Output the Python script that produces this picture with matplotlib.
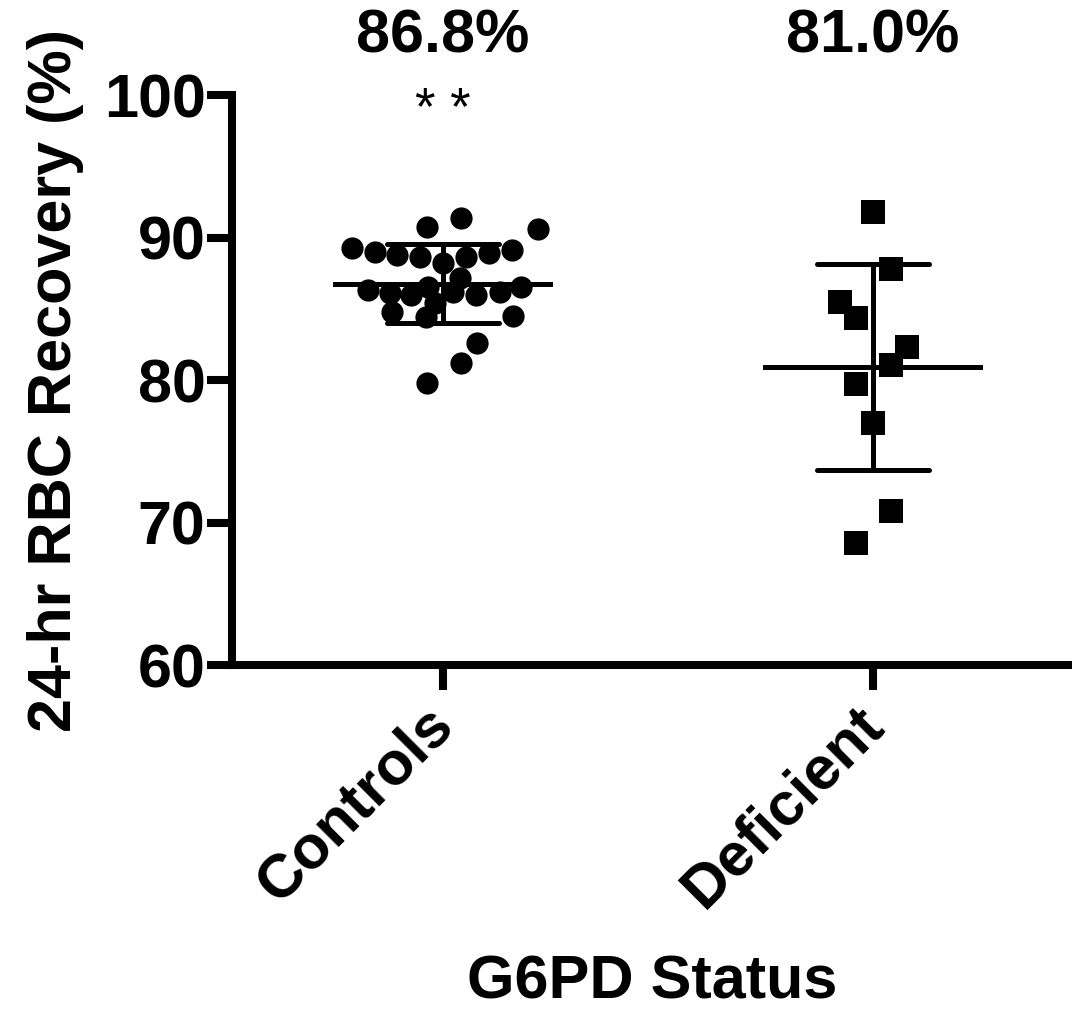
import numpy as np
import matplotlib
matplotlib.use('Agg')
import matplotlib.pyplot as plt
import matplotlib.transforms as mtransforms

plt.rcParams['font.family'] = ['Liberation Sans', 'DejaVu Sans']

groups = ['Controls', 'Deficient']
mean_labels = ['86.8%', '81.0%']

controls = [90.76, 91.35, 90.57, 89.24, 89.0, 88.77, 88.65, 88.19, 88.65, 88.89,
            89.12, 87.14, 86.32, 86.08, 85.96, 86.55, 86.2, 85.96, 86.2, 86.55,
            84.8, 84.44, 85.38, 84.49, 82.62, 81.17, 79.81]
controls_dx = [-0.037, 0.043, 0.222, -0.211, -0.158, -0.106, -0.053, 0.0, 0.055, 0.108,
               0.160, 0.040, -0.174, -0.123, -0.073, -0.034, 0.024, 0.078, 0.133, 0.183,
               -0.117, -0.038, -0.019, 0.163, 0.080, 0.043, -0.037]

deficient = [91.81, 87.77, 85.45, 84.33, 82.34, 81.05, 79.72, 77.0, 70.81, 68.58]
deficient_dx = [0.0, 0.042, -0.077, -0.040, 0.080, 0.042, -0.040, 0.0, 0.042, -0.040]

fig = plt.figure(figsize=(10.72, 10.11), dpi=100)
ax = fig.add_axes([0.2164, 0.3422, 0.7836, 0.5638])

lw = 5.8
for i, (vals, dx, mk, ms) in enumerate([(controls, controls_dx, 'o', 16),
                                         (deficient, deficient_dx, 's', 17)]):
    vals = np.array(vals)
    x = i + np.array(dx)
    ax.plot(x, vals, linestyle='none', marker=mk, markersize=ms, color='black',
            markeredgewidth=0, clip_on=False, zorder=3)
    m = vals.mean()
    sd = vals.std(ddof=1)
    ax.plot([i - 0.25, i + 0.25], [m, m], color='black', lw=3.6, zorder=4)
    ax.plot([i, i], [m - sd, m + sd], color='black', lw=3.6, zorder=4)
    for y in (m - sd, m + sd):
        ax.plot([i - 0.13, i + 0.13], [y, y], color='black', lw=3.6,
                solid_capstyle='round', zorder=4)
    ax.text(i, 104.05, mean_labels[i], ha='center', va='center', fontsize=44,
            fontweight='bold', clip_on=False)

ax.text(0, 98.9, '* *', ha='center', va='center', fontsize=38, clip_on=False)

ax.set_xlim(-0.49, 1.463)
ax.set_ylim(60, 100)
ax.set_yticks([60, 70, 80, 90, 100])
ax.set_xticks([0, 1])
ax.set_xticklabels(groups, rotation=45, ha='right', va='top', rotation_mode='anchor')

for side in ['top', 'right']:
    ax.spines[side].set_visible(False)
for side in ['left', 'bottom']:
    ax.spines[side].set_linewidth(lw)
    ax.spines[side].set_capstyle('projecting')

ax.tick_params(axis='both', length=18, width=lw, labelsize=44)
ax.tick_params(axis='y', pad=1)
ax.tick_params(axis='x', pad=4)
shift = mtransforms.ScaledTranslation(-0.18, 0, fig.dpi_scale_trans)
for lab in ax.get_xticklabels():
    lab.set_transform(lab.get_transform() + shift)
for lab in ax.get_yticklabels() + ax.get_xticklabels():
    lab.set_fontweight('bold')

ax.set_ylabel('24-hr RBC Recovery (%)', fontsize=44, fontweight='bold', labelpad=14)
ax.set_xlabel('G6PD Status', fontsize=44, fontweight='bold', labelpad=26)

fig.savefig('out.png', dpi=100)
